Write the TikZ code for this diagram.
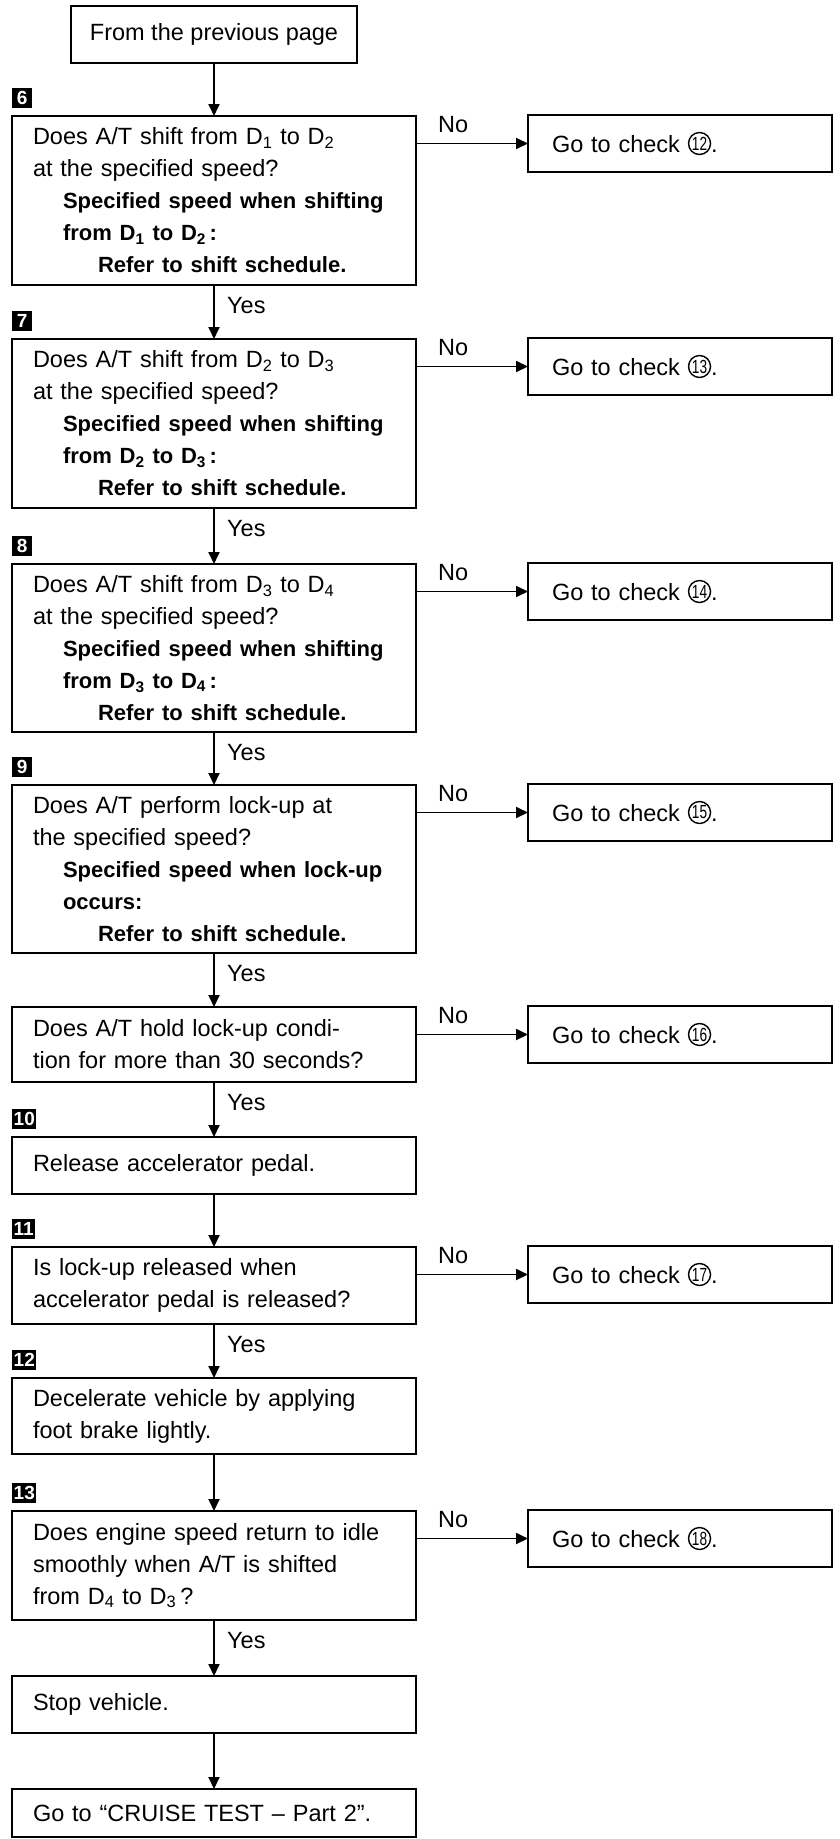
\documentclass[tikz,border=0pt]{standalone}
\usepackage{fontspec}
\setmainfont{Liberation Sans}
\usetikzlibrary{positioning, arrows.meta}

\newcommand{\spec}[1]{{\fontsize{22}{32}\selectfont\bfseries #1}}
\newcommand{\dsub}[1]{\textsubscript{#1}}
\newcommand{\chk}[1]{\tikz[baseline={([yshift=2.5pt]cn.south)}]
  \node[circle, draw, line width=1.4pt, inner sep=0pt, minimum size=22pt,
        font=\fontsize{19}{19}\selectfont] (cn) {\scalebox{0.72}[1]{#1}};}

\begin{document}
\begin{tikzpicture}[x=1pt, y=-1pt,
    every node/.style={font=\fontsize{23.5}{32}\selectfont},
    startbox/.style={rectangle, draw, line width=1.8pt, outer sep=0pt,
                     minimum width=286pt, minimum height=57pt},
    stepbox/.style={rectangle, draw, line width=1.8pt, outer sep=0pt, minimum width=404pt,
                    text width=362pt, inner xsep=21pt, inner ysep=4pt, align=left},
    sidebox/.style={rectangle, draw, line width=1.8pt, outer sep=0pt, minimum width=304pt,
                    minimum height=57pt, text width=256pt, inner xsep=24pt, align=left},
    tagnum/.style={fill=black, text=white, font=\fontsize{19}{19}\selectfont\bfseries,
                   inner sep=1.5pt, minimum width=20pt, minimum height=20pt},
    yn/.style={inner sep=0pt},
    arr/.style={-{Triangle[length=12pt, width=11pt]}, line width=1.8pt},
  ]
  \useasboundingbox (0,0) rectangle (840,1839);

  % main column
  \node[startbox] (prev) at (214,34.5) {From the previous page};

  \node[stepbox, minimum height=169pt, below=53pt of prev] (s6)
    {Does A/T shift from D\dsub{1} to D\dsub{2}\\
     at the specified speed?\\
     \hspace*{30pt}\spec{Specified speed when shifting}\\
     \hspace*{30pt}\spec{from D\dsub{1} to D\dsub{2}\,:}\\
     \hspace*{65pt}\spec{Refer to shift schedule.}};
  \node[stepbox, minimum height=169pt, below=54pt of s6] (s7)
    {Does A/T shift from D\dsub{2} to D\dsub{3}\\
     at the specified speed?\\
     \hspace*{30pt}\spec{Specified speed when shifting}\\
     \hspace*{30pt}\spec{from D\dsub{2} to D\dsub{3}\,:}\\
     \hspace*{65pt}\spec{Refer to shift schedule.}};
  \node[stepbox, minimum height=168pt, below=56pt of s7] (s8)
    {Does A/T shift from D\dsub{3} to D\dsub{4}\\
     at the specified speed?\\
     \hspace*{30pt}\spec{Specified speed when shifting}\\
     \hspace*{30pt}\spec{from D\dsub{3} to D\dsub{4}\,:}\\
     \hspace*{65pt}\spec{Refer to shift schedule.}};
  \node[stepbox, minimum height=168pt, below=53pt of s8] (s9)
    {Does A/T perform lock-up at\\
     the specified speed?\\
     \hspace*{30pt}\spec{Specified speed when lock-up}\\
     \hspace*{30pt}\spec{occurs:}\\
     \hspace*{65pt}\spec{Refer to shift schedule.}};
  \node[stepbox, minimum height=75pt, below=54pt of s9] (hold)
    {Does A/T hold lock-up condi-\\
     tion for more than 30 seconds?};
  \node[stepbox, minimum height=57pt, below=55pt of hold] (s10)
    {Release accelerator pedal.};
  \node[stepbox, minimum height=77pt, below=53pt of s10] (s11)
    {Is lock-up released when\\
     accelerator pedal is released?};
  \node[stepbox, minimum height=76pt, below=54pt of s11] (s12)
    {Decelerate vehicle by applying\\
     foot brake lightly.};
  \node[stepbox, minimum height=109pt, below=57pt of s12] (s13)
    {Does engine speed return to idle\\
     smoothly when A/T is shifted\\
     from D\dsub{4} to D\dsub{3}\,?};
  \node[stepbox, minimum height=57pt, below=56pt of s13] (stop)
    {Stop vehicle.};
  \node[stepbox, minimum height=48pt, below=56pt of stop] (cruise)
    {Go to “CRUISE TEST – Part 2”.};

  % step numbers
  \node[tagnum, anchor=south west] (t6) at ([yshift=8pt]s6.north west) {6};
  \node[tagnum, anchor=south west] (t7) at ([yshift=8pt]s7.north west) {7};
  \node[tagnum, anchor=south west] (t8) at ([yshift=8pt]s8.north west) {8};
  \node[tagnum, anchor=south west] (t9) at ([yshift=8pt]s9.north west) {9};
  \node[tagnum, anchor=south west] (t10) at ([yshift=8pt]s10.north west) {10};
  \node[tagnum, anchor=south west] (t11) at ([yshift=8pt]s11.north west) {11};
  \node[tagnum, anchor=south west] (t12) at ([yshift=8pt]s12.north west) {12};
  \node[tagnum, anchor=south west] (t13) at ([yshift=8pt]s13.north west) {13};

  % down arrows
  \draw[arr] (prev) -- (s6);
  \draw[arr] (s6) -- (s7);
  \draw[arr] (s7) -- (s8);
  \draw[arr] (s8) -- (s9);
  \draw[arr] (s9) -- (hold);
  \draw[arr] (hold) -- (s10);
  \draw[arr] (s10) -- (s11);
  \draw[arr] (s11) -- (s12);
  \draw[arr] (s12) -- (s13);
  \draw[arr] (s13) -- (stop);
  \draw[arr] (stop) -- (cruise);

  \node[yn, below right=12pt and 13pt of s6.south] (yes6) {Yes};
  \node[yn, below right=12pt and 13pt of s7.south] (yes7) {Yes};
  \node[yn, below right=12pt and 13pt of s8.south] (yes8) {Yes};
  \node[yn, below right=12pt and 13pt of s9.south] (yes9) {Yes};
  \node[yn, below right=12pt and 13pt of hold.south] (yeshold) {Yes};
  \node[yn, below right=12pt and 13pt of s11.south] (yes11) {Yes};
  \node[yn, below right=12pt and 13pt of s13.south] (yes13) {Yes};

  % No branches
  \coordinate (b6) at ([yshift=-27.5pt]s6.north east);
  \node[sidebox, right=112pt of b6] (go12) {Go to check \chk{12}.};
  \node[yn, above right=11pt and 22pt of b6] (no6) {No};
  \draw[arr] (b6) -- (go12);

  \coordinate (b7) at ([yshift=-27.5pt]s7.north east);
  \node[sidebox, right=112pt of b7] (go13) {Go to check \chk{13}.};
  \node[yn, above right=11pt and 22pt of b7] (no7) {No};
  \draw[arr] (b7) -- (go13);

  \coordinate (b8) at ([yshift=-27.5pt]s8.north east);
  \node[sidebox, right=112pt of b8] (go14) {Go to check \chk{14}.};
  \node[yn, above right=11pt and 22pt of b8] (no8) {No};
  \draw[arr] (b8) -- (go14);

  \coordinate (b9) at ([yshift=-27.5pt]s9.north east);
  \node[sidebox, right=112pt of b9] (go15) {Go to check \chk{15}.};
  \node[yn, above right=11pt and 22pt of b9] (no9) {No};
  \draw[arr] (b9) -- (go15);

  \coordinate (bhold) at ([yshift=-27.5pt]hold.north east);
  \node[sidebox, right=112pt of bhold] (go16) {Go to check \chk{16}.};
  \node[yn, above right=11pt and 22pt of bhold] (nohold) {No};
  \draw[arr] (bhold) -- (go16);

  \coordinate (b11) at ([yshift=-27.5pt]s11.north east);
  \node[sidebox, right=112pt of b11] (go17) {Go to check \chk{17}.};
  \node[yn, above right=11pt and 22pt of b11] (no11) {No};
  \draw[arr] (b11) -- (go17);

  \coordinate (b13) at ([yshift=-27.5pt]s13.north east);
  \node[sidebox, right=112pt of b13] (go18) {Go to check \chk{18}.};
  \node[yn, above right=11pt and 22pt of b13] (no13) {No};
  \draw[arr] (b13) -- (go18);
\end{tikzpicture}
\end{document}
